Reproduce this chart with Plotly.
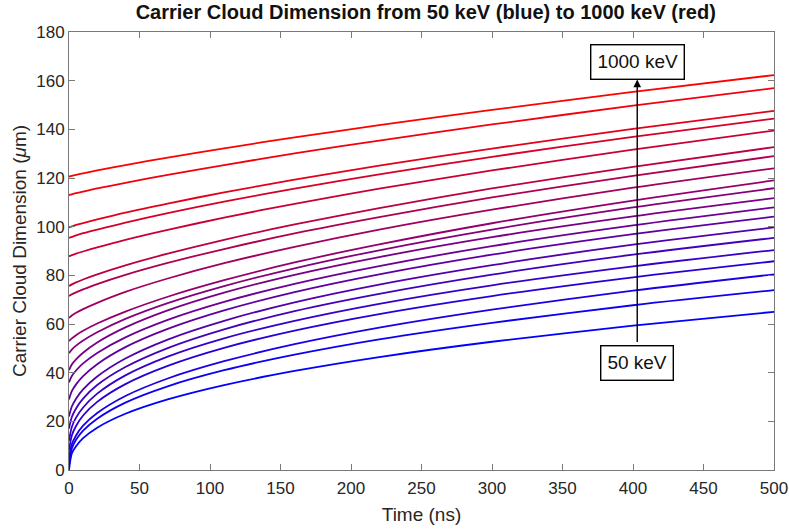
import plotly.graph_objects as go

time_ns = [0, 2, 5, 10, 20, 40, 70, 110, 160, 220, 300, 400, 500]

energies_kev = [1000, 950, 900, 850, 800, 750, 700, 650, 600, 550,
                500, 450, 400, 350, 300, 250, 200, 150, 100, 50]

dim_1000 = [120.6, 120.9, 121.3, 121.9, 123.1, 125.3, 128.4, 132.2, 136.7, 141.7, 148.0, 155.4, 162.3]
dim_950 = [113.0, 113.3, 113.8, 114.4, 115.7, 118.0, 121.3, 125.3, 130.1, 135.4, 142.0, 149.7, 156.9]
dim_900 = [99.7, 100.1, 100.7, 101.5, 103.0, 105.8, 109.5, 114.1, 119.3, 125.1, 132.1, 140.2, 147.6]
dim_850 = [95.4, 95.8, 96.4, 97.3, 98.8, 101.7, 105.6, 110.3, 115.6, 121.5, 128.7, 136.9, 144.4]
dim_800 = [87.8, 88.3, 88.9, 89.8, 91.5, 94.6, 98.7, 103.7, 109.4, 115.6, 123.1, 131.7, 139.5]
dim_750 = [75.6, 76.3, 77.1, 78.3, 80.4, 84.1, 88.9, 94.6, 100.9, 107.6, 115.7, 124.6, 132.7]
dim_700 = [71.5, 72.2, 73.0, 74.2, 76.4, 80.2, 85.1, 90.8, 97.2, 103.9, 112.0, 120.9, 129.0]
dim_650 = [62.5, 63.5, 64.6, 66.1, 68.7, 73.2, 78.7, 85.0, 91.7, 98.8, 107.0, 116.0, 124.0]
dim_600 = [53.0, 54.1, 55.4, 57.2, 60.2, 65.1, 71.2, 78.0, 85.3, 92.7, 101.4, 110.7, 119.0]
dim_550 = [48.0, 49.5, 51.1, 53.2, 56.6, 62.1, 68.6, 75.6, 82.9, 90.3, 98.8, 107.9, 115.8]
dim_500 = [41.0, 43.4, 45.5, 48.2, 52.4, 58.6, 65.6, 72.9, 80.2, 87.5, 95.7, 104.2, 111.7]
dim_450 = [36.0, 38.6, 40.9, 43.8, 48.1, 54.5, 61.7, 69.1, 76.5, 83.8, 92.0, 100.5, 107.9]
dim_400 = [29.0, 32.4, 35.2, 38.6, 43.5, 50.5, 58.0, 65.6, 73.1, 80.4, 88.5, 96.9, 104.1]
dim_350 = [22.0, 26.1, 29.3, 33.1, 38.4, 45.8, 53.6, 61.3, 68.9, 76.2, 84.2, 92.6, 99.7]
dim_300 = [17.0, 21.8, 25.3, 29.3, 34.9, 42.3, 50.1, 57.8, 65.3, 72.4, 80.3, 88.5, 95.4]
dim_250 = [12.0, 17.7, 21.5, 25.7, 31.4, 38.9, 46.6, 54.1, 61.3, 68.3, 75.9, 83.7, 90.4]
dim_200 = [8.0, 14.2, 18.1, 22.4, 28.0, 35.3, 42.8, 50.2, 57.3, 64.1, 71.5, 79.2, 85.8]
dim_150 = [5.0, 10.6, 14.2, 18.2, 23.4, 30.4, 37.6, 44.7, 51.7, 58.5, 65.9, 73.7, 80.4]
dim_100 = [2.0, 8.8, 12.4, 16.2, 21.1, 27.7, 34.4, 41.0, 47.4, 53.7, 60.5, 67.7, 73.9]
dim_50 = [0.0, 6.8, 9.8, 13.1, 17.4, 23.1, 29.0, 34.9, 40.7, 46.4, 52.7, 59.3, 65.0]

series = [dim_1000, dim_950, dim_900, dim_850, dim_800, dim_750, dim_700,
          dim_650, dim_600, dim_550, dim_500, dim_450, dim_400, dim_350,
          dim_300, dim_250, dim_200, dim_150, dim_100, dim_50]

x_ticks = [0, 50, 100, 150, 200, 250, 300, 350, 400, 450, 500]
y_ticks = [0, 20, 40, 60, 80, 100, 120, 140, 160, 180]

FONT = "Liberation Sans, Arial, sans-serif"

fig = go.Figure()
n = len(series)
# draw blue (50 keV) first so red lies on top
for i in range(n - 1, -1, -1):
    frac = (n - 1 - i) / (n - 1)  # 1 for 1000 keV (red), 0 for 50 keV (blue)
    r = int(round(255 * frac))
    b = int(round(255 * (1 - frac)))
    fig.add_trace(go.Scatter(
        x=time_ns, y=series[i], mode="lines",
        line=dict(color=f"rgb({r},0,{b})", width=1.8, shape="spline", smoothing=0.8),
        name=f"{energies_kev[i]} keV", showlegend=False, hoverinfo="skip"))

axis_col = "#7a7a7a"
tick_font = dict(family=FONT, size=17, color="#262626")

fig.update_layout(
    width=789, height=532,
    margin=dict(l=69, r=15, t=32, b=62),
    paper_bgcolor="white", plot_bgcolor="white",
    title=dict(text="<b>Carrier Cloud Dimension from 50 keV (blue) to 1000 keV (red)</b>",
               x=0.506, xanchor="center", xref="paper", y=0.977, yanchor="middle",
               font=dict(family=FONT, size=20, color="#111")),
    xaxis=dict(range=[0, 500], tickvals=x_ticks, ticks="inside", ticklen=6,
               tickcolor=axis_col, showline=True, linecolor=axis_col, linewidth=1,
               mirror="ticks", showgrid=False, zeroline=False, tickfont=tick_font,
               automargin=False, ticklabelstandoff=3,
               title=dict(text="Time (ns)", standoff=10,
                          font=dict(family=FONT, size=19, color="#262626"))),
    yaxis=dict(range=[0, 180], tickvals=y_ticks, ticks="inside", ticklen=6,
               tickcolor=axis_col, showline=True, linecolor=axis_col, linewidth=1,
               mirror="ticks", showgrid=False, zeroline=False, tickfont=tick_font,
               automargin=False,
               title=dict(text="Carrier Cloud Dimension (<i>μ</i>m)", standoff=4,
                          font=dict(family=FONT, size=19, color="#262626"))),
)

# Arrow from 50 keV box up to 1000 keV box
fig.add_annotation(x=403, y=160.5, ax=403, ay=52, xref="x", yref="y", axref="x", ayref="y",
                   text="", showarrow=True, arrowhead=2, arrowsize=1.1, arrowwidth=1.4,
                   arrowcolor="black")
fig.add_annotation(x=403, y=167.5, xref="x", yref="y", text="1000 keV", showarrow=False,
                   font=dict(family=FONT, size=19, color="#111"),
                   bordercolor="black", borderwidth=1.4, borderpad=6, bgcolor="white")
fig.add_annotation(x=403, y=43.8, xref="x", yref="y", text="50 keV", showarrow=False,
                   font=dict(family=FONT, size=19, color="#111"),
                   bordercolor="black", borderwidth=1.4, borderpad=6, bgcolor="white")

fig.write_html("out.html")
